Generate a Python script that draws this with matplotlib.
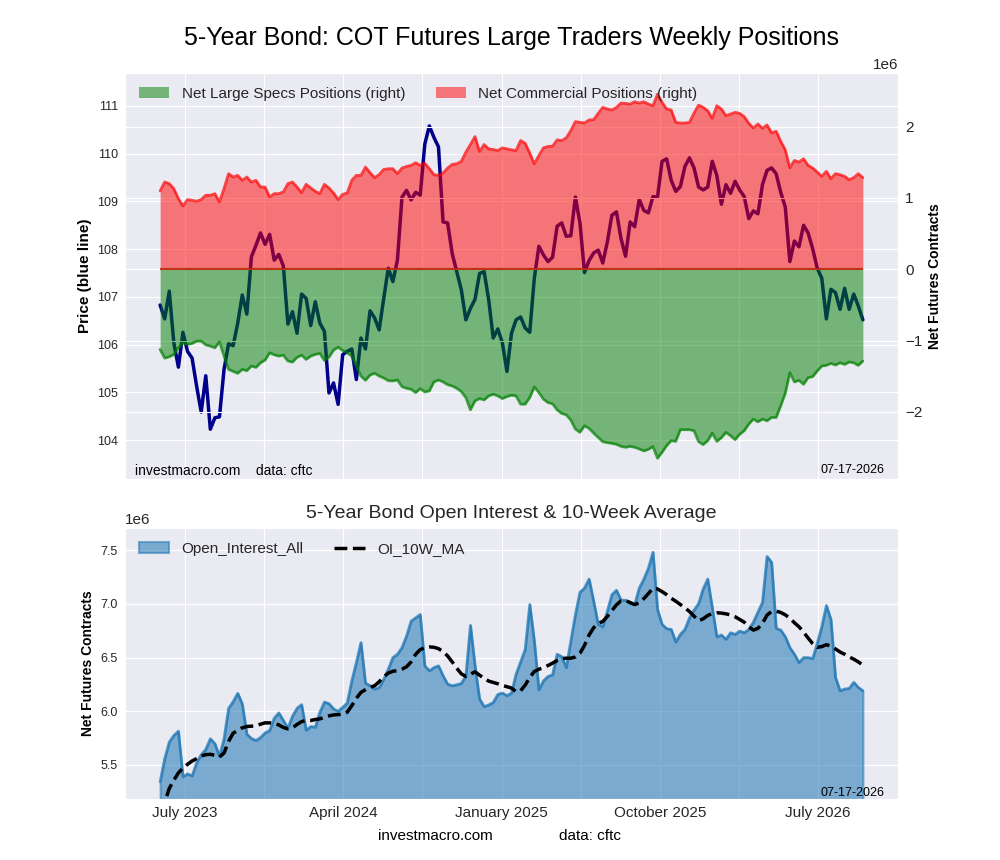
import matplotlib
matplotlib.use('Agg')
import matplotlib.pyplot as plt
import seaborn as sns
import numpy as np

sns.set_style('darkgrid')
plt.rcParams['font.family'] = ['Liberation Sans', 'DejaVu Sans']

# ---------------- data (weekly) ----------------
price = [106.83, 106.54, 107.12, 106.04, 105.53, 106.26, 105.86, 105.72, 105.13, 104.59,
         105.35, 104.23, 104.47, 104.49, 105.48, 106.02, 105.98, 106.45, 107.04, 106.64,
         107.84, 108.08, 108.34, 108.10, 108.31, 107.77, 107.89, 107.65, 106.43, 106.69,
         106.24, 107.06, 106.97, 106.40, 106.90, 106.45, 106.28, 104.99, 105.20, 104.75,
         105.79, 105.86, 105.91, 105.27, 106.14, 105.91, 106.71, 106.56, 106.31, 106.97,
         107.60, 107.32, 107.77, 109.09, 109.23, 109.03, 109.19, 109.13, 110.20, 110.58,
         110.34, 110.14, 108.57, 108.55, 107.91, 107.53, 107.15, 106.52, 106.76, 106.95,
         107.49, 107.53, 106.94, 106.14, 106.33, 106.04, 105.44, 106.24, 106.52, 106.58,
         106.35, 106.26, 107.39, 108.06, 107.88, 107.74, 107.83, 108.48, 108.55, 108.27,
         108.28, 109.09, 108.55, 107.51, 107.76, 107.92, 107.98, 107.71, 108.15, 108.71,
         108.78, 108.22, 107.85, 108.57, 108.47, 109.04, 108.81, 108.76, 109.10, 109.09,
         109.84, 109.89, 109.44, 109.21, 109.31, 109.73, 109.91, 109.70, 109.30, 109.24,
         109.30, 109.84, 109.54, 108.94, 109.35, 109.17, 109.42, 109.24, 109.10, 108.64,
         108.80, 108.74, 109.35, 109.65, 109.70, 109.58, 109.19, 108.88, 107.74, 108.17,
         108.05, 108.50, 108.34, 108.01, 107.60, 107.39, 106.54, 107.16, 107.09, 106.74,
         107.18, 106.74, 107.06, 106.81, 106.52]

# net commercial positions (thousands of contracts)
net_comm_k = [1098, 1223, 1200, 1130, 991, 888, 977, 967, 953, 977,
              1037, 1037, 1060, 944, 1130, 1340, 1293, 1316, 1247, 1293,
              1223, 1247, 1153, 1153, 1014, 1060, 1060, 1084, 1200, 1223,
              1153, 1074, 1191, 1140, 1093, 1060, 1191, 1140, 1070, 977,
              1051, 1070, 1247, 1316, 1316, 1433, 1353, 1284, 1326, 1400,
              1409, 1409, 1340, 1419, 1442, 1456, 1493, 1456, 1488, 1409,
              1326, 1316, 1349, 1419, 1470, 1479, 1512, 1642, 1749, 1860,
              1651, 1749, 1688, 1679, 1665, 1702, 1688, 1674, 1665, 1805,
              1767, 1628, 1479, 1595, 1702, 1721, 1726, 1814, 1805, 1842,
              1944, 2070, 2060, 2051, 2093, 2098, 2186, 2270, 2247, 2233,
              2270, 2330, 2326, 2316, 2349, 2330, 2349, 2316, 2293, 2456,
              2340, 2247, 2233, 2060, 2051, 2051, 2060, 2191, 2302, 2270,
              2223, 2116, 2293, 2247, 2153, 2177, 2200, 2186, 2140, 2047,
              1981, 2037, 1977, 2023, 1912, 1935, 1795, 1674, 1423, 1526,
              1502, 1549, 1456, 1419, 1363, 1302, 1372, 1270, 1340, 1326,
              1302, 1256, 1284, 1340, 1284]

# net large speculator positions (thousands of contracts)
net_specs_k = [-1126, -1247, -1228, -1195, -1102, -1033, -1056, -1042, -1009, -1009,
               -1060, -1079, -1102, -1019, -1219, -1405, -1433, -1460, -1405, -1423,
               -1358, -1377, -1312, -1274, -1172, -1200, -1219, -1205, -1288, -1302,
               -1237, -1205, -1265, -1219, -1195, -1181, -1279, -1233, -1135, -1093,
               -1140, -1172, -1219, -1358, -1498, -1558, -1484, -1460, -1498, -1526,
               -1563, -1567, -1553, -1647, -1670, -1684, -1730, -1674, -1721, -1707,
               -1581, -1553, -1581, -1619, -1637, -1670, -1716, -1800, -1972, -1847,
               -1814, -1833, -1777, -1753, -1777, -1814, -1786, -1767, -1777, -1893,
               -1893, -1800, -1651, -1730, -1823, -1870, -1888, -1972, -2023, -2042,
               -2116, -2242, -2288, -2195, -2233, -2298, -2358, -2419, -2433, -2442,
               -2456, -2484, -2498, -2484, -2498, -2521, -2549, -2526, -2488, -2651,
               -2567, -2474, -2405, -2414, -2251, -2251, -2251, -2265, -2419, -2460,
               -2405, -2298, -2414, -2363, -2288, -2335, -2391, -2316, -2265, -2172,
               -2102, -2140, -2102, -2126, -2079, -2079, -1916, -1740, -1451, -1581,
               -1558, -1614, -1521, -1507, -1428, -1358, -1349, -1321, -1344, -1312,
               -1335, -1302, -1312, -1349, -1288]

# open interest (thousands of contracts)
open_interest_k = [5343, 5559, 5713, 5775, 5815, 5389, 5417, 5398, 5522, 5596,
                   5645, 5744, 5698, 5580, 5744, 6028, 6090, 6167, 6068, 5787,
                   5747, 5728, 5756, 5799, 5821, 5935, 5985, 5914, 5843, 5954,
                   6028, 6062, 5824, 5858, 5852, 5991, 6086, 6071, 6022, 6000,
                   6037, 6077, 6284, 6454, 6639, 6262, 6238, 6207, 6222, 6299,
                   6392, 6500, 6531, 6593, 6701, 6840, 6870, 6901, 6423, 6377,
                   6407, 6423, 6330, 6253, 6238, 6247, 6259, 6330, 6800, 6423,
                   6114, 6043, 6059, 6083, 6157, 6170, 6145, 6170, 6346, 6460,
                   6577, 6994, 6654, 6201, 6284, 6324, 6340, 6531, 6509, 6407,
                   6654, 6901, 7108, 7148, 7231, 7025, 6809, 6787, 6932, 7086,
                   7127, 7034, 7034, 7003, 6994, 7148, 7231, 7333, 7481, 6948,
                   6809, 6769, 6762, 6645, 6716, 6762, 6870, 6941, 7003, 7139,
                   7231, 6963, 6694, 6710, 6670, 6731, 6716, 6747, 6731, 6762,
                   6830, 6923, 7015, 7441, 7386, 6772, 6756, 6694, 6593, 6531,
                   6454, 6500, 6500, 6491, 6633, 6787, 6985, 6855, 6315, 6191,
                   6207, 6213, 6269, 6222, 6191]

# 10-week moving average of open interest (thousands of contracts)
oi_ma_k = [5050, 5150, 5281, 5358, 5426, 5472, 5506, 5537, 5559, 5583,
           5596, 5599, 5590, 5574, 5611, 5719, 5796, 5821, 5846, 5858,
           5861, 5864, 5880, 5892, 5892, 5886, 5873, 5849, 5836, 5846,
           5877, 5904, 5914, 5914, 5923, 5929, 5944, 5957, 5966, 5969,
           5972, 5991, 6052, 6120, 6176, 6201, 6222, 6238, 6275, 6321,
           6355, 6373, 6377, 6392, 6414, 6460, 6531, 6574, 6593, 6599,
           6596, 6583, 6556, 6515, 6460, 6401, 6349, 6324, 6346, 6367,
           6336, 6306, 6281, 6269, 6256, 6241, 6228, 6216, 6182, 6191,
           6244, 6315, 6370, 6392, 6404, 6426, 6448, 6472, 6491, 6494,
           6494, 6506, 6540, 6614, 6710, 6778, 6818, 6836, 6883, 6938,
           6991, 7028, 7031, 7012, 6994, 7009, 7049, 7096, 7145, 7139,
           7114, 7086, 7052, 7025, 6994, 6963, 6929, 6886, 6843, 6861,
           6892, 6910, 6917, 6914, 6907, 6898, 6880, 6855, 6830, 6787,
           6756, 6772, 6818, 6895, 6929, 6932, 6920, 6898, 6867, 6824,
           6787, 6738, 6682, 6630, 6596, 6602, 6620, 6608, 6580, 6552,
           6531, 6506, 6485, 6460, 6429]

tick_labels = ['July 2023', 'April 2024', 'January 2025', 'October 2025', 'July 2026']
date_stamp = '07-17-2026'

net_comm = np.array(net_comm_k) * 1000.0
net_specs = np.array(net_specs_k) * 1000.0
open_interest = np.array(open_interest_k) * 1000.0
oi_ma = np.array(oi_ma_k) * 1000.0
x = np.arange(len(price))

# tick layout (index units)
all_pos = [5.45 + 17.34 * k for k in range(2 * len(tick_labels) - 1)]
all_labels = []
for k in range(len(all_pos)):
    all_labels.append(tick_labels[k // 2] if k % 2 == 0 else '')

fig = plt.figure(figsize=(10, 8.6), dpi=100)

# ---------------- top panel ----------------
ax1 = fig.add_axes([0.125, 0.443, 0.773, 0.472])
ax1.plot(x, price, color='darkblue', lw=2.5)
ax1.set_ylim(min(price) * 0.99, max(price) * 1.01)
ax1.set_ylabel('Price (blue line)', fontweight='bold', fontsize=11, color='black')
ax1.tick_params(axis='both', length=0, pad=5)
ax1.tick_params(axis='y', labelsize=9)
ax1.set_xticks(all_pos)
ax1.set_xticklabels([''] * len(all_pos))

ax2 = ax1.twinx()
ax2.fill_between(x, 0, net_specs, color='green', alpha=0.5, lw=0,
                 label='Net Large Specs Positions (right)')
ax2.fill_between(x, 0, net_comm, color='red', alpha=0.5, lw=0,
                 label='Net Commercial Positions (right)')
ax2.plot(x, net_specs, color='green', alpha=0.7, lw=2)
ax2.plot(x, net_comm, color='red', alpha=0.7, lw=2)
ax2.hlines(0, x[0], x[-1], color='green', alpha=0.6, lw=1.5)
ax2.hlines(0, x[0], x[-1], color='red', alpha=0.6, lw=1.5)
ax2.set_ylim(net_specs.min() * 1.11, net_comm.max() * 1.12)
ax2.set_ylabel('Net Futures Contracts', fontweight='bold', fontsize=10, color='black')
ax2.tick_params(axis='y', labelsize=11, length=0, pad=5)
ax2.yaxis.get_offset_text().set_fontsize(11)
ax2.legend(loc='upper left', ncol=2, fontsize=11, frameon=False)

ax1.text(0.013, 0.02, 'investmacro.com    data: cftc', transform=ax1.transAxes,
         fontsize=10, va='center', ha='left', color='black')
ax1.text(0.982, 0.022, date_stamp, transform=ax1.transAxes,
         fontsize=9, va='center', ha='right', color='black')

fig.text(0.5115, 1 - 38 / 860, '5-Year Bond: COT Futures Large Traders Weekly Positions',
         fontsize=18, ha='center', va='center', color='black')

# ---------------- bottom panel ----------------
ax3 = fig.add_axes([0.125, 0.0709, 0.773, 0.315])
ax3.fill_between(x, 0, open_interest, color='#1f77b4', alpha=0.55,
                 edgecolor='#1f77b4', lw=1.5, label='Open_Interest_All')
ax3.plot(x, open_interest, color='#1f77b4', alpha=0.7, lw=2)
ax3.plot(x, oi_ma, color='black', ls='--', lw=2.5, label='OI_10W_MA')
ax3.set_ylim(open_interest.min() * 0.97, open_interest.max() * 1.03)
ax3.set_xlim(ax1.get_xlim())
ax3.set_xticks(all_pos)
ax3.set_xticklabels(all_labels, fontsize=11)
ax3.tick_params(axis='both', length=0, pad=5)
ax3.tick_params(axis='y', labelsize=9)
ax3.yaxis.get_offset_text().set_fontsize(11)
ax3.set_ylabel('Net Futures Contracts', fontweight='bold', fontsize=10, color='black')
ax3.legend(loc='upper left', ncol=2, fontsize=11, frameon=False)
ax3.text(0.982, 0.022, date_stamp, transform=ax3.transAxes,
         fontsize=9, va='center', ha='right', color='black')

fig.text(0.5115, 1 - 514 / 860, '5-Year Bond Open Interest & 10-Week Average',
         fontsize=14, ha='center', va='center', color='#262626')

fig.text(435 / 1000, 1 - 836 / 860, 'investmacro.com', fontsize=11,
         ha='center', va='center', color='black')
fig.text(590 / 1000, 1 - 836 / 860, 'data: cftc', fontsize=11,
         ha='center', va='center', color='black')

fig.savefig('out.png', dpi=100)
